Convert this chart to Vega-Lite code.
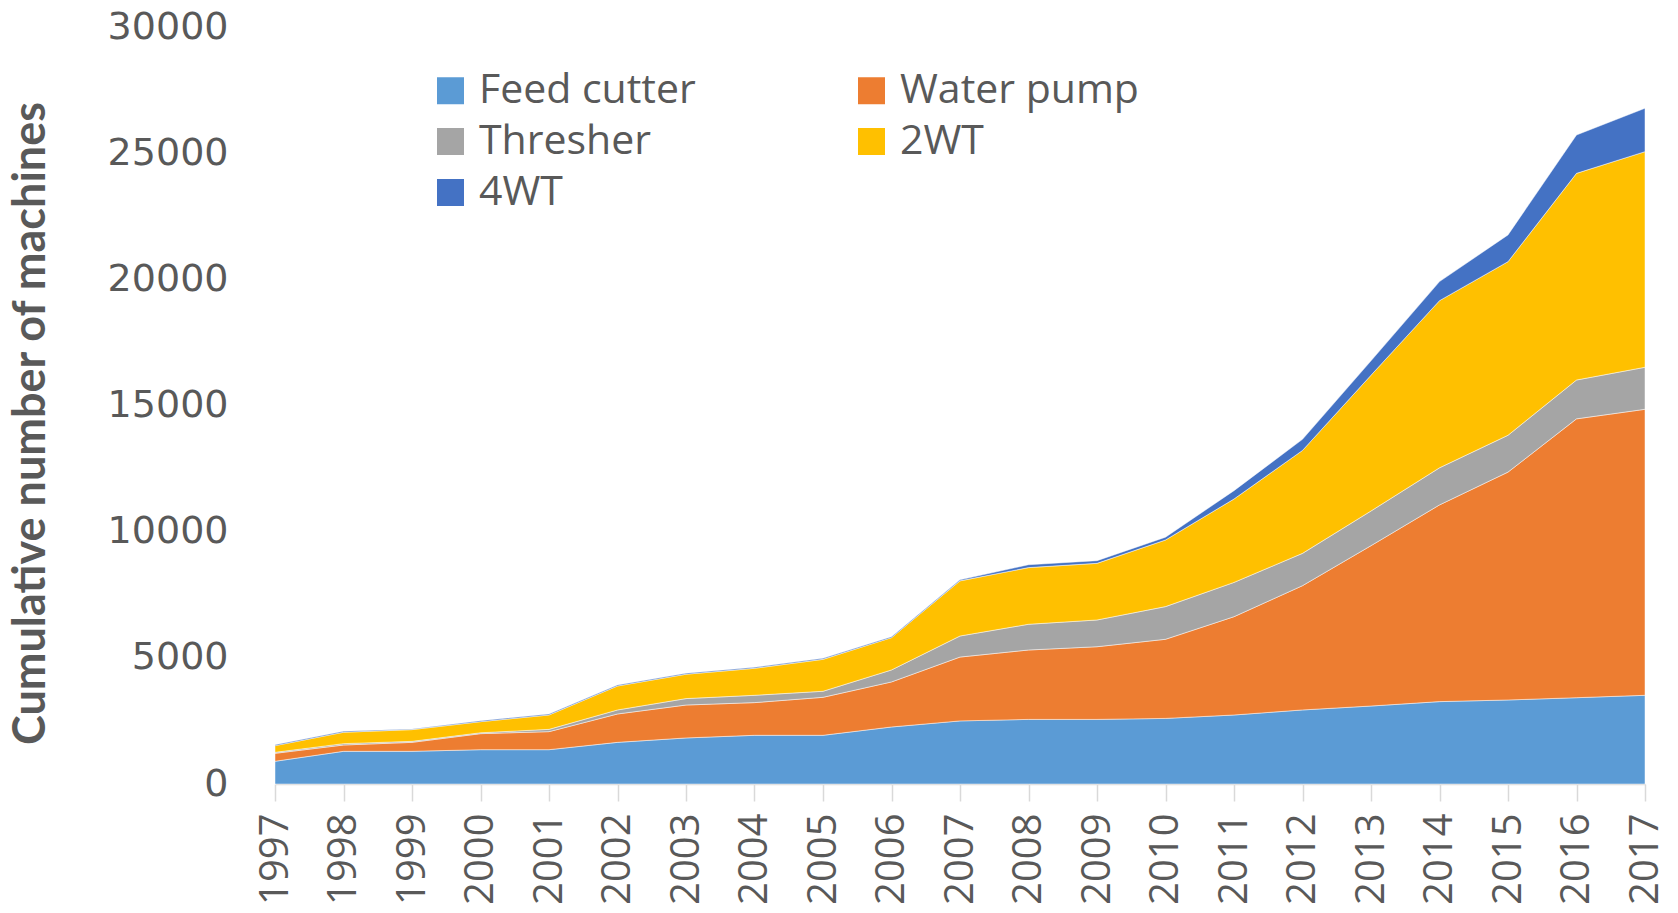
{
  "$schema": "https://vega.github.io/schema/vega-lite/v6.json",
  "width": 1370,
  "height": 757,
  "autosize": {"type": "none"},
  "padding": {"left": 275, "top": 27, "right": 33, "bottom": 129},
  "background": "white",
  "config": {"view": {"stroke": null}},
  "data": {"values": [
    {"year": 1997, "type": "Feed cutter", "count": 900},
    {"year": 1997, "type": "Water pump", "count": 315},
    {"year": 1997, "type": "Thresher", "count": 40},
    {"year": 1997, "type": "2WT", "count": 265},
    {"year": 1997, "type": "4WT", "count": 40},
    {"year": 1998, "type": "Feed cutter", "count": 1295},
    {"year": 1998, "type": "Water pump", "count": 250},
    {"year": 1998, "type": "Thresher", "count": 55},
    {"year": 1998, "type": "2WT", "count": 450},
    {"year": 1998, "type": "4WT", "count": 40},
    {"year": 1999, "type": "Feed cutter", "count": 1295},
    {"year": 1999, "type": "Water pump", "count": 355},
    {"year": 1999, "type": "Thresher", "count": 40},
    {"year": 1999, "type": "2WT", "count": 465},
    {"year": 1999, "type": "4WT", "count": 25},
    {"year": 2000, "type": "Feed cutter", "count": 1360},
    {"year": 2000, "type": "Water pump", "count": 635},
    {"year": 2000, "type": "Thresher", "count": 35},
    {"year": 2000, "type": "2WT", "count": 440},
    {"year": 2000, "type": "4WT", "count": 40},
    {"year": 2001, "type": "Feed cutter", "count": 1360},
    {"year": 2001, "type": "Water pump", "count": 715},
    {"year": 2001, "type": "Thresher", "count": 90},
    {"year": 2001, "type": "2WT", "count": 570},
    {"year": 2001, "type": "4WT", "count": 40},
    {"year": 2002, "type": "Feed cutter", "count": 1650},
    {"year": 2002, "type": "Water pump", "count": 1125},
    {"year": 2002, "type": "Thresher", "count": 160},
    {"year": 2002, "type": "2WT", "count": 950},
    {"year": 2002, "type": "4WT", "count": 40},
    {"year": 2003, "type": "Feed cutter", "count": 1825},
    {"year": 2003, "type": "Water pump", "count": 1305},
    {"year": 2003, "type": "Thresher", "count": 255},
    {"year": 2003, "type": "2WT", "count": 965},
    {"year": 2003, "type": "4WT", "count": 40},
    {"year": 2004, "type": "Feed cutter", "count": 1930},
    {"year": 2004, "type": "Water pump", "count": 1295},
    {"year": 2004, "type": "Thresher", "count": 290},
    {"year": 2004, "type": "2WT", "count": 1070},
    {"year": 2004, "type": "4WT", "count": 40},
    {"year": 2005, "type": "Feed cutter", "count": 1930},
    {"year": 2005, "type": "Water pump", "count": 1505},
    {"year": 2005, "type": "Thresher", "count": 240},
    {"year": 2005, "type": "2WT", "count": 1265},
    {"year": 2005, "type": "4WT", "count": 40},
    {"year": 2006, "type": "Feed cutter", "count": 2260},
    {"year": 2006, "type": "Water pump", "count": 1785},
    {"year": 2006, "type": "Thresher", "count": 475},
    {"year": 2006, "type": "2WT", "count": 1280},
    {"year": 2006, "type": "4WT", "count": 40},
    {"year": 2007, "type": "Feed cutter", "count": 2500},
    {"year": 2007, "type": "Water pump", "count": 2530},
    {"year": 2007, "type": "Thresher", "count": 835},
    {"year": 2007, "type": "2WT", "count": 2185},
    {"year": 2007, "type": "4WT", "count": 40},
    {"year": 2008, "type": "Feed cutter", "count": 2560},
    {"year": 2008, "type": "Water pump", "count": 2750},
    {"year": 2008, "type": "Thresher", "count": 1020},
    {"year": 2008, "type": "2WT", "count": 2245},
    {"year": 2008, "type": "4WT", "count": 115},
    {"year": 2009, "type": "Feed cutter", "count": 2560},
    {"year": 2009, "type": "Water pump", "count": 2880},
    {"year": 2009, "type": "Thresher", "count": 1060},
    {"year": 2009, "type": "2WT", "count": 2245},
    {"year": 2009, "type": "4WT", "count": 105},
    {"year": 2010, "type": "Feed cutter", "count": 2600},
    {"year": 2010, "type": "Water pump", "count": 3135},
    {"year": 2010, "type": "Thresher", "count": 1295},
    {"year": 2010, "type": "2WT", "count": 2640},
    {"year": 2010, "type": "4WT", "count": 110},
    {"year": 2011, "type": "Feed cutter", "count": 2735},
    {"year": 2011, "type": "Water pump", "count": 3895},
    {"year": 2011, "type": "Thresher", "count": 1360},
    {"year": 2011, "type": "2WT", "count": 3305},
    {"year": 2011, "type": "4WT", "count": 330},
    {"year": 2012, "type": "Feed cutter", "count": 2935},
    {"year": 2012, "type": "Water pump", "count": 4925},
    {"year": 2012, "type": "Thresher", "count": 1280},
    {"year": 2012, "type": "2WT", "count": 4080},
    {"year": 2012, "type": "4WT", "count": 440},
    {"year": 2013, "type": "Feed cutter", "count": 3090},
    {"year": 2013, "type": "Water pump", "count": 6355},
    {"year": 2013, "type": "Thresher", "count": 1375},
    {"year": 2013, "type": "2WT", "count": 5380},
    {"year": 2013, "type": "4WT", "count": 570},
    {"year": 2014, "type": "Feed cutter", "count": 3265},
    {"year": 2014, "type": "Water pump", "count": 7795},
    {"year": 2014, "type": "Thresher", "count": 1470},
    {"year": 2014, "type": "2WT", "count": 6625},
    {"year": 2014, "type": "4WT", "count": 755},
    {"year": 2015, "type": "Feed cutter", "count": 3330},
    {"year": 2015, "type": "Water pump", "count": 9030},
    {"year": 2015, "type": "Thresher", "count": 1460},
    {"year": 2015, "type": "2WT", "count": 6880},
    {"year": 2015, "type": "4WT", "count": 1060},
    {"year": 2016, "type": "Feed cutter", "count": 3420},
    {"year": 2016, "type": "Water pump", "count": 11050},
    {"year": 2016, "type": "Thresher", "count": 1540},
    {"year": 2016, "type": "2WT", "count": 8190},
    {"year": 2016, "type": "4WT", "count": 1520},
    {"year": 2017, "type": "Feed cutter", "count": 3515},
    {"year": 2017, "type": "Water pump", "count": 11335},
    {"year": 2017, "type": "Thresher", "count": 1665},
    {"year": 2017, "type": "2WT", "count": 8545},
    {"year": 2017, "type": "4WT", "count": 1720}
  ]},
  "transform": [
    {"calculate": "indexof(['Feed cutter', 'Water pump', 'Thresher', '2WT', '4WT'], datum.type)", "as": "layer"}
  ],
  "mark": {"type": "area", "stroke": "white", "strokeWidth": 0.6, "strokeOpacity": 0.8},
  "encoding": {
    "x": {
      "field": "year", "type": "quantitative",
      "scale": {"domain": [1997, 2017], "nice": false, "zero": false},
      "axis": {
        "values": [1997,1998,1999,2000,2001,2002,2003,2004,2005,2006,2007,2008,2009,2010,2011,2012,2013,2014,2015,2016,2017],
        "format": "d", "labelAngle": -90, "labelAlign": "right", "labelBaseline": "middle",
        "labelFont": "Open Sans", "labelFontSize": 40, "labelColor": "#595959",
        "labelPadding": 12, "labelOverlap": false, "labelFlush": false,
        "tickColor": "#D9D9D9", "tickSize": 17, "tickWidth": 1.5,
        "domainColor": "#D9D9D9", "domainWidth": 1.5,
        "grid": false, "title": null
      }
    },
    "y": {
      "field": "count", "type": "quantitative", "stack": "zero",
      "scale": {"domain": [0, 30000], "nice": false},
      "axis": {
        "values": [0, 5000, 10000, 15000, 20000, 25000, 30000],
        "format": "d",
        "labelFont": "DejaVu Sans", "labelFontSize": 38, "labelColor": "#595959",
        "labelPadding": 47, "ticks": false, "domain": false, "grid": false,
        "title": "Cumulative number of machines",
        "titleFont": "Lato", "titleFontSize": 45, "titleFontWeight": "bold",
        "titleColor": "#595959",
        "titleX": -245, "titleY": 396, "titleAngle": -90,
        "titleAlign": "center", "titleBaseline": "middle"
      }
    },
    "color": {
      "field": "type", "type": "nominal",
      "sort": ["Feed cutter", "Water pump", "Thresher", "2WT", "4WT"],
      "scale": {
        "domain": ["Feed cutter", "Water pump", "Thresher", "2WT", "4WT"],
        "range": ["#5B9BD5", "#ED7D31", "#A5A5A5", "#FFC000", "#4472C4"]
      },
      "legend": {
        "orient": "none", "legendX": 155, "legendY": 43,
        "direction": "horizontal", "columns": 2,
        "title": null, "padding": 0,
        "symbolType": "square", "symbolSize": 729, "symbolStrokeWidth": 0,
        "symbolOpacity": 1,
        "labelFont": "Open Sans", "labelFontSize": 41, "labelColor": "#595959",
        "labelOffset": 8, "columnPadding": 155, "rowPadding": 9,
        "labelLimit": 400
      }
    },
    "order": {"field": "layer", "type": "quantitative", "sort": "ascending"}
  }
}
